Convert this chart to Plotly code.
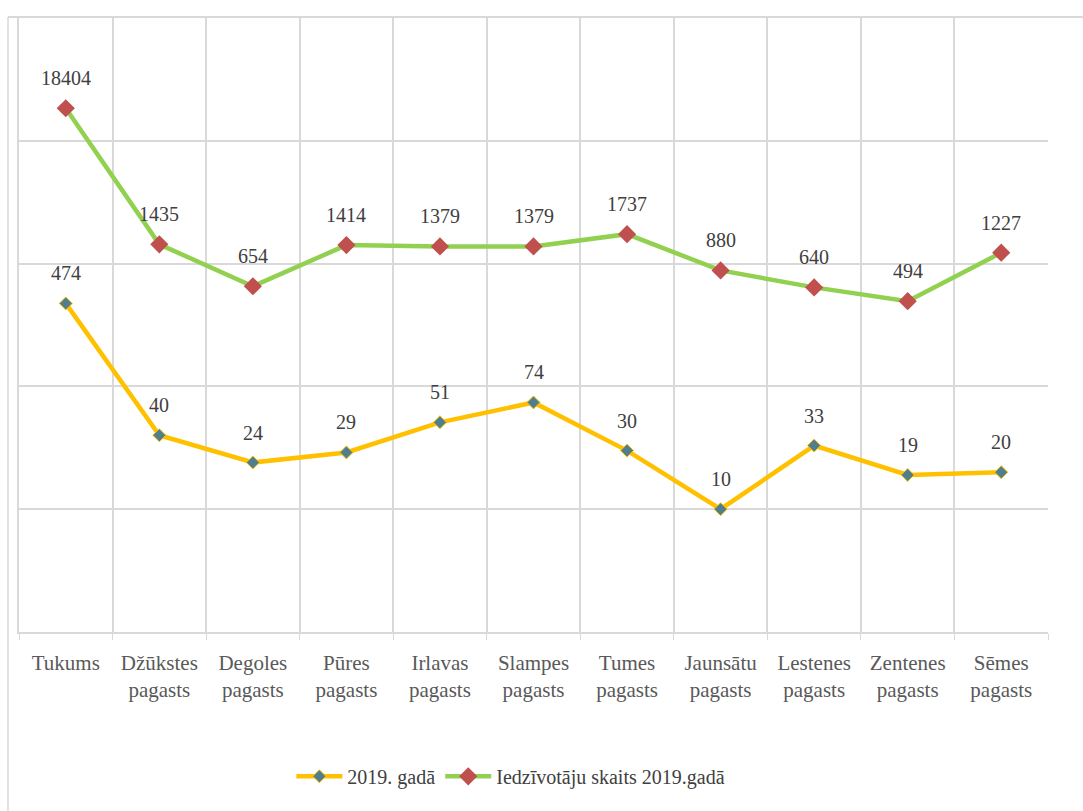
import math
import plotly.graph_objects as go

categories = ["Tukums", "Džūkstes<br>pagasts", "Degoles<br>pagasts", "Pūres<br>pagasts",
              "Irlavas<br>pagasts", "Slampes<br>pagasts", "Tumes<br>pagasts",
              "Jaunsātu<br>pagasts", "Lestenes<br>pagasts", "Zentenes<br>pagasts",
              "Sēmes<br>pagasts"]
series_2019 = [474, 40, 24, 29, 51, 74, 30, 10, 33, 19, 20]
population_2019 = [18404, 1435, 654, 1414, 1379, 1379, 1737, 880, 640, 494, 1227]
name_2019 = "2019. gadā"
name_pop = "Iedzīvotāju skaits 2019.gadā"

serif = "Liberation Serif, Times New Roman, DejaVu Serif, serif"

fig = go.Figure()
fig.add_trace(go.Scatter(
    x=categories, y=series_2019, name=name_2019, mode="lines+markers",
    line=dict(color="#FFC000", width=4.5),
    marker=dict(symbol="diamond", size=10, color="#4F7F8F", line=dict(color="#FFC000", width=1)),
))
fig.add_trace(go.Scatter(
    x=categories, y=population_2019, name=name_pop, mode="lines+markers",
    line=dict(color="#92D050", width=4.5),
    marker=dict(symbol="diamond", size=14, color="#C0504D"),
))

annotations = []
for series in (series_2019, population_2019):
    for c, v in zip(categories, series):
        annotations.append(dict(x=c, y=math.log10(v), xref="x", yref="y", text=str(v),
                                showarrow=False, yshift=30,
                                font=dict(family=serif, size=20, color="#404040")))

fig.update_layout(
    width=1083, height=811,
    margin=dict(l=19, r=35, t=18, b=179),
    paper_bgcolor="white", plot_bgcolor="white",
    showlegend=True,
    legend=dict(orientation="h", x=0.478, xanchor="center", y=-0.235, yanchor="middle",
                font=dict(family=serif, size=20, color="#404040"), itemwidth=46,
                tracegroupgap=0),
    annotations=annotations,
    shapes=[
        dict(type="line", xref="paper", yref="paper", x0=-0.0107, x1=1.04, y0=1.0016, y1=1.0016,
             line=dict(color="#D9D9D9", width=2)),
        dict(type="line", xref="paper", yref="paper", x0=-0.0107, x1=-0.0107, y0=1.0016, y1=-0.3,
             line=dict(color="#D9D9D9", width=1.5)),
    ],
)
fig.update_xaxes(
    type="category", tickson="boundaries", showgrid=True, gridcolor="#D9D9D9", gridwidth=1.5,
    ticks="outside", ticklen=6, tickcolor="#D9D9D9", showline=True, linecolor="#D9D9D9", linewidth=1.5,
    tickfont=dict(family=serif, size=21, color="#595959"), range=[-0.5, 10.5],
    ticklabelstandoff=11,
)
fig.update_yaxes(
    type="log", range=[0, 5], dtick=1, showgrid=True, gridcolor="#D9D9D9", gridwidth=1.5,
    showticklabels=False, zeroline=False, showline=True, linecolor="#D9D9D9", linewidth=1.5,
)

fig.write_html("out.html", config={"displayModeBar": False},
               post_script="document.body.style.margin='0';")
